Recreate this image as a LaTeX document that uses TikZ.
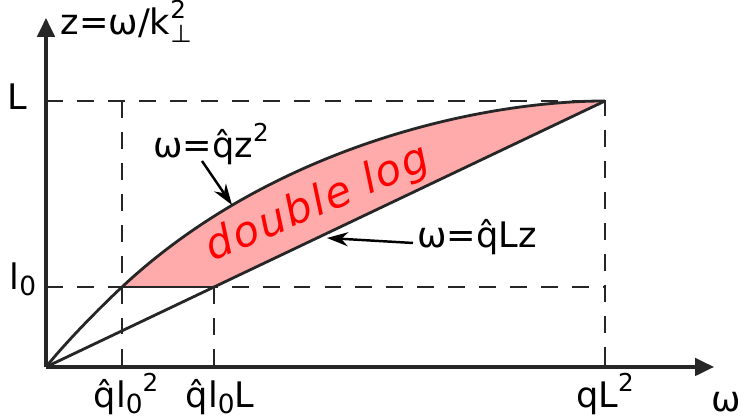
\documentclass[tikz,border=0pt]{standalone}
\usepackage{fontspec}
\setmainfont{DejaVu Sans}
\usetikzlibrary{arrows.meta}

\newcommand{\hoch}[1]{\raisebox{0.85ex}{\fontsize{7}{7}\selectfont #1}}
\newcommand{\tief}[1]{\raisebox{-0.3ex}{\fontsize{7.5}{7}\selectfont #1}}

\begin{document}
\begin{tikzpicture}[x=0.01cm, y=0.01cm,
  achse/.style={line width=0.9pt, draw=black!85, -{Triangle[length=5.4pt,width=5pt]}},
  hilfslinie/.style={dash pattern=on 4.8pt off 4pt, line width=0.7pt, draw=black!85},
  kurve/.style={line width=0.8pt, draw=black!85},
  zeiger/.style={line width=0.7pt, -{Stealth[length=6pt,width=4pt]}},
  beschriftung/.style={font=\fontsize{10}{12}\selectfont, inner sep=0pt}]
  \useasboundingbox (0,0) rectangle (741,416);

  % Punkte
  \coordinate (O) at (46,49);
  \coordinate (xend) at (714,49);
  \coordinate (yend) at (46,398);
  \coordinate (A) at (122,129);
  \coordinate (B) at (214,129);
  \coordinate (P) at (605,315);
  \coordinate (Ly) at (46,315);
  \coordinate (ly) at (46,129);
  \coordinate (Pl) at (605,129);
  \coordinate (AL) at (122,315);
  \coordinate (Ax) at (122,49);
  \coordinate (Bx) at (214,49);
  \coordinate (Px) at (605,49);

  % Hilfslinien
  \draw[hilfslinie] (Ly) -- (P) -- (Px);
  \draw[hilfslinie] (ly) -- (Pl);
  \draw[hilfslinie] (AL) -- (Ax);
  \draw[hilfslinie] (B) -- (Bx);

  % double log Bereich
  \fill[red!33] (A) .. controls (272,269) and (480,315) .. (P) -- (B) -- cycle;

  % Kurven
  \draw[kurve] (O) .. controls (66,74) and (100,108.5) .. (A)
                   .. controls (272,269) and (480,315) .. (P);
  \draw[kurve] (O) -- (P);
  \draw[kurve] (A) -- (B);

  % Achsen
  \draw[achse] (O) -- (xend);
  \draw[achse] (O) -- (yend);
  \foreach \p in {Ax,Bx,Px}
    \draw[kurve] (\p) -- ++(0,14);

  % Achsenbeschriftung
  \node[beschriftung, anchor=base west] (zlabel) at (60,381)
    {z=ω/k\rlap{\hoch{2}}\raisebox{-0.4ex}{\fontsize{7}{7}\selectfont ⊥}};
  \node[beschriftung, anchor=base] (Llabel) at (17.5,306) {L};
  \node[beschriftung, anchor=base west] (l0label) at (9,126) {l\tief{0}};
  \node[beschriftung, anchor=base] (xa) at (126,8) {q̂l\tief{0}\hoch{2}};
  \node[beschriftung, anchor=base] (xb) at (220,8) {q̂l\tief{0}L};
  \node[beschriftung, anchor=base] (xc) at (605,8) {qL\hoch{2}};
  \node[beschriftung, anchor=base] (xw) at (726,4) {ω};

  % Kurvenbeschriftung
  \node[beschriftung, anchor=base] (lab1) at (211,258) {ω=q̂z\hoch{2}};
  \node[beschriftung, anchor=base] (lab2) at (477,168) {ω=q̂Lz};
  \node[font=\fontsize{12}{14}\selectfont\itshape\addfontfeature{LetterSpace=5},
        text=red, rotate=23] (dl) at (318,212) {double log};

  % Zeiger
  \coordinate (s1) at (202,255);
  \coordinate (t1) at (232,211);
  \coordinate (s2) at (413,173);
  \coordinate (t2) at (327,178);
  \draw[zeiger] (s1) -- (t1);
  \draw[zeiger] (s2) -- (t2);
\end{tikzpicture}
\end{document}
